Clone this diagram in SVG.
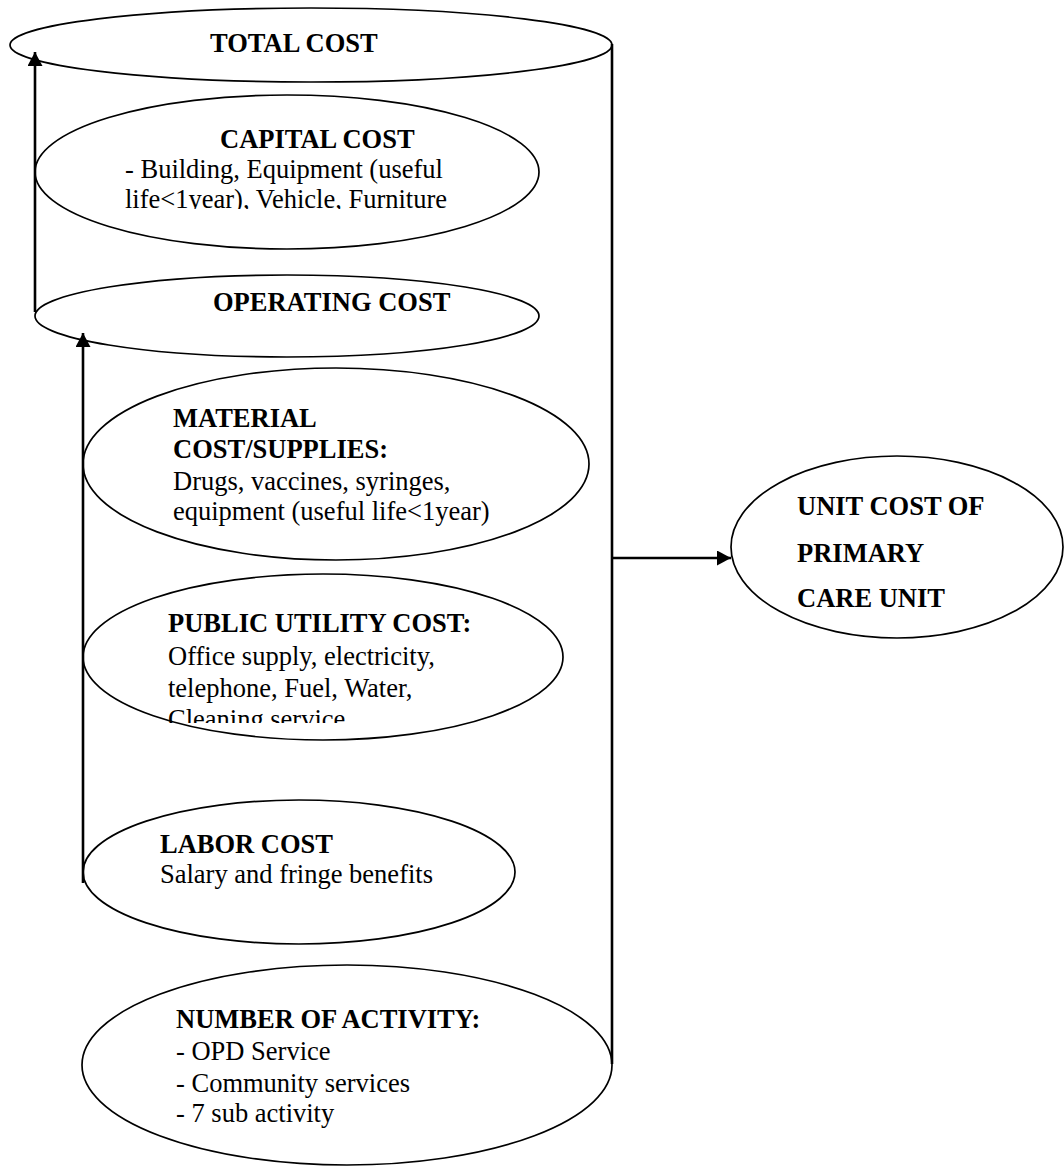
<svg xmlns="http://www.w3.org/2000/svg" width="1064" height="1168" viewBox="0 0 1064 1168">
<style>
.node{fill:#fff;stroke:#000;stroke-width:1.7}
.h{font-family:"Liberation Serif","Times New Roman",serif;font-weight:bold;font-size:26.5px;fill:#000}
.t{font-family:"Liberation Serif","Times New Roman",serif;font-size:26.5px;fill:#000}
.c{fill:none;stroke:#000;stroke-width:2.6}
</style>
<defs>
<marker id="ah" markerUnits="userSpaceOnUse" markerWidth="16" markerHeight="16" refX="14" refY="7.5" orient="auto">
<path d="M0,0 L14,7.5 L0,15 Z" fill="#000"/>
</marker>
<clipPath id="clipCap"><rect x="0" y="0" width="1064" height="209"/></clipPath>
<clipPath id="clipPub"><rect x="0" y="0" width="1064" height="723"/></clipPath>
</defs>

<g id="total-cost">
<ellipse class="node" cx="311" cy="45" rx="301" ry="37"/>
<text class="h" x="210" y="52">TOTAL COST</text>
</g>

<g id="capital-cost">
<ellipse class="node" cx="287" cy="172" rx="252" ry="77"/>
<text class="h" x="220" y="148">CAPITAL COST</text>
<g clip-path="url(#clipCap)">
<text class="t" x="125" y="178">- Building, Equipment (useful</text>
<text class="t" x="125" y="208">life&lt;1year), Vehicle, Furniture</text>
</g>
</g>

<g id="operating-cost">
<ellipse class="node" cx="287" cy="316" rx="252" ry="41"/>
<text class="h" x="213" y="311">OPERATING COST</text>
</g>

<g id="material-cost">
<ellipse class="node" cx="336" cy="464" rx="253" ry="96"/>
<text class="h" x="173" y="427">MATERIAL</text>
<text class="h" x="173" y="458">COST/SUPPLIES:</text>
<text class="t" x="173" y="490">Drugs, vaccines, syringes,</text>
<text class="t" x="173" y="520">equipment (useful life&lt;1year)</text>
</g>

<g id="public-utility-cost">
<ellipse class="node" cx="323" cy="657" rx="240" ry="83"/>
<text class="h" x="168" y="632">PUBLIC UTILITY COST:</text>
<g clip-path="url(#clipPub)">
<text class="t" x="168" y="665">Office supply, electricity,</text>
<text class="t" x="168" y="697">telephone, Fuel, Water,</text>
<text class="t" x="168" y="728">Cleaning service</text>
</g>
</g>

<g id="labor-cost">
<ellipse class="node" cx="299" cy="872" rx="216" ry="72"/>
<text class="h" x="160" y="853">LABOR COST</text>
<text class="t" x="160" y="883">Salary and fringe benefits</text>
</g>

<g id="number-of-activity">
<ellipse class="node" cx="347" cy="1065" rx="265" ry="100"/>
<text class="h" x="176" y="1028">NUMBER OF ACTIVITY:</text>
<text class="t" x="176" y="1060">- OPD Service</text>
<text class="t" x="176" y="1092">- Community services</text>
<text class="t" x="176" y="1122">- 7 sub activity</text>
</g>

<g id="unit-cost">
<ellipse class="node" cx="897" cy="547" rx="166" ry="91"/>
<text class="h" x="797" y="515">UNIT COST OF</text>
<text class="h" x="797" y="562">PRIMARY</text>
<text class="h" x="797" y="607">CARE UNIT</text>
</g>

<g id="connectors">
<line class="c" x1="35" y1="312" x2="35" y2="52" marker-end="url(#ah)"/>
<line class="c" x1="83" y1="883" x2="83" y2="333" marker-end="url(#ah)"/>
<line class="c" x1="612" y1="44" x2="612" y2="1064"/>
<line class="c" x1="612" y1="558" x2="731" y2="558" marker-end="url(#ah)"/>
</g>
</svg>
